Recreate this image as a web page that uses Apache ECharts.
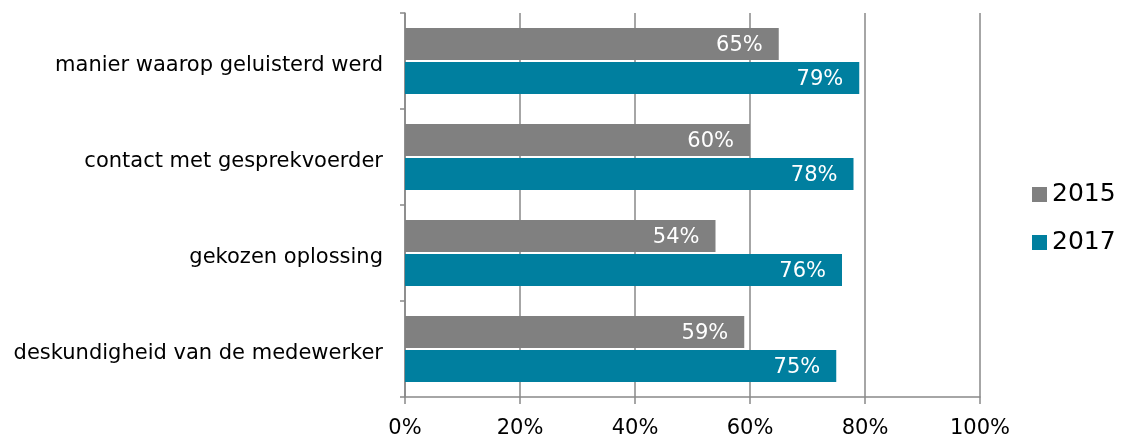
<!DOCTYPE html>
<html>
<head>
<meta charset="utf-8">
<script src="https://cdn.jsdelivr.net/npm/echarts@6/dist/echarts.min.js"></script>
<style>
  html, body { margin: 0; padding: 0; background: #fff; }
  #chart { width: 1122px; height: 436px; }
</style>
</head>
<body>
<div id="chart"></div>
<script>
// Satisfaction items, listed top to bottom
const categories = [
  'manier waarop geluisterd werd',
  'contact met gesprekvoerder',
  'gekozen oplossing',
  'deskundigheid van de medewerker'
];
const values2015 = [65, 60, 54, 59];
const values2017 = [79, 78, 76, 75];
const seriesNames = ['2015', '2017'];

const font = 'DejaVu Sans, Verdana, sans-serif';
const axisGray = '#898989';

const valueLabel = {
  show: true,
  position: 'insideRight',
  distance: 16,
  color: '#fff',
  fontFamily: font,
  fontSize: 21,
  formatter: p => '{v|' + p.value + '%}',
  rich: { v: { color: '#fff', fontFamily: font, fontSize: 21, padding: [4, 0, 0, 0] } }
};

const chart = echarts.init(document.getElementById('chart'), null, { renderer: 'canvas' });
chart.setOption({
  animation: false,
  textStyle: { fontFamily: font },
  grid: {
    left: 405, right: 142, top: 13, bottom: 39,
    containLabel: false,
    outerBoundsMode: 'none'
  },
  legend: {
    orient: 'vertical',
    left: 1027,
    top: 177,
    icon: 'rect',
    itemWidth: 15,
    itemHeight: 15,
    itemGap: 23,
    textStyle: { fontFamily: font, fontSize: 25, color: '#000' },
    data: seriesNames
  },
  xAxis: {
    type: 'value',
    min: 0,
    max: 100,
    interval: 20,
    axisLine: { show: true, lineStyle: { color: axisGray, width: 1.5 } },
    axisTick: { show: true, length: 7, lineStyle: { color: axisGray, width: 1.5 } },
    splitLine: { show: true, lineStyle: { color: axisGray, width: 1.5 } },
    axisLabel: {
      color: '#000',
      fontFamily: font,
      fontSize: 21,
      margin: 21,
      formatter: v => v + '%'
    }
  },
  yAxis: {
    type: 'category',
    inverse: true,
    data: categories,
    axisLine: { show: true, lineStyle: { color: axisGray, width: 1.5 } },
    axisTick: { show: true, length: 5, alignWithLabel: false, lineStyle: { color: axisGray, width: 1.5 } },
    axisLabel: {
      color: '#000',
      fontFamily: font,
      fontSize: 21,
      margin: 22,
      formatter: v => '{c|' + v + '}',
      rich: { c: { color: '#000', fontFamily: font, fontSize: 21, padding: [10, 0, 0, 0] } }
    }
  },
  series: [
    {
      name: seriesNames[0],
      type: 'bar',
      data: values2015,
      itemStyle: { color: '#808080' },
      barGap: '6%',
      barCategoryGap: '31%',
      label: valueLabel,
      z: 3
    },
    {
      name: seriesNames[1],
      type: 'bar',
      data: values2017,
      itemStyle: { color: '#007F9F' },
      label: valueLabel,
      z: 3
    }
  ]
});
</script>
</body>
</html>
